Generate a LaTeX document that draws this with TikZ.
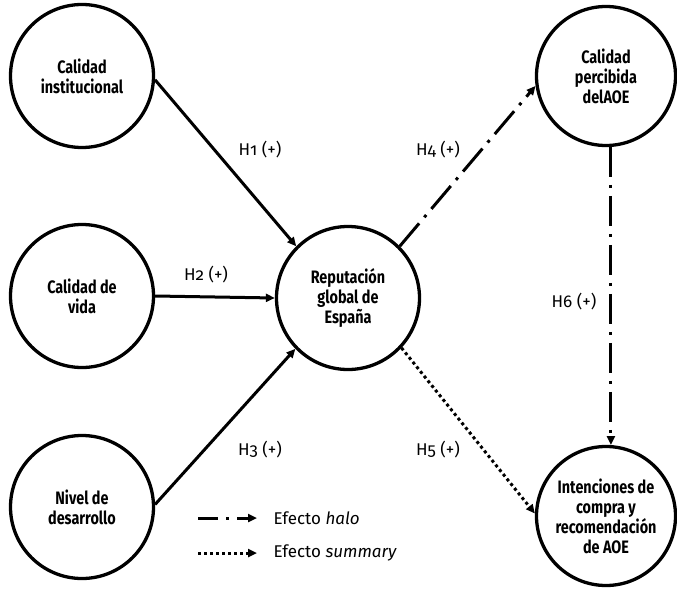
\documentclass[tikz,border=0pt]{standalone}
\usepackage{fontspec}
\setmainfont{Fira Sans}[Numbers=OldStyle]
\newfontfamily\narrowbold{Fira Sans}[FakeStretch=0.8, BoldFont={Fira Sans Bold}]
\usetikzlibrary{arrows.meta}

\begin{document}
\begin{tikzpicture}[x=1pt,y=-1pt,
  construct/.style={circle, draw, line width=3.3pt, minimum size=143pt, inner sep=0pt,
    align=center, font=\narrowbold\fontsize{18}{20}\selectfont\bfseries},
  smallconstruct/.style={construct, minimum size=139pt},
  path/.style={line width=3pt, -{Triangle[length=9pt,width=8pt]}},
  halo/.style={path, dash pattern=on 30pt off 8pt on 3pt off 8pt},
  summary/.style={path, dash pattern=on 3pt off 3pt},
  hyp/.style={font=\fontsize{17}{20}\selectfont},
  legend/.style={font=\fontsize{17}{20}\selectfont, anchor=west}]
\useasboundingbox (0,0) rectangle (677,591);

% constructs
\node[construct] (inst) at (82,76) {Calidad\\institucional};
\node[construct] (vida) at (82,296) {Calidad de\\vida};
\node[construct] (des) at (82,507) {Nivel de\\desarrollo};
\node[construct] (rep) at (348,298) {Reputación\\global de\\España};
\node[smallconstruct] (perc) at (606,76) {Calidad\\percibida\\delAOE};
\node[smallconstruct] (intc) at (606,516) {Intenciones de\\compra y\\recomendación\\de AOE};

% hypothesised paths
\draw[path] (inst.-3) -- (rep.135);
\draw[path] (vida.0) -- (rep.180);
\draw[path] (des.2) -- (rep.224);
\draw[halo] (rep.45) -- (perc.188);
\draw[summary] (rep.-43) -- (intc.178);
\draw[halo] (perc.-86) -- (intc.86);

% hypothesis labels
\node[hyp] (h1) at (260,150) {H1 (+)};
\node[hyp] (h2) at (206,275) {H2 (+)};
\node[hyp] (h3) at (260,450) {H3 (+)};
\node[hyp] (h4) at (438,150) {H4 (+)};
\node[hyp] (h5) at (438,450) {H5 (+)};
\node[hyp] (h6) at (574,302) {H6 (+)};

% legend
\coordinate (l1a) at (198,518);
\coordinate (l1b) at (257,518);
\coordinate (l2a) at (198,553);
\coordinate (l2b) at (257,553);
\draw[path, dash pattern=on 20pt off 8pt on 3pt off 8pt] (l1a) -- (l1b);
\draw[summary] (l2a) -- (l2b);
\node[legend] (t1) at (270,518) {Efecto \textit{halo}};
\node[legend] (t2) at (270,553) {Efecto \textit{summary}};
\end{tikzpicture}
\end{document}
